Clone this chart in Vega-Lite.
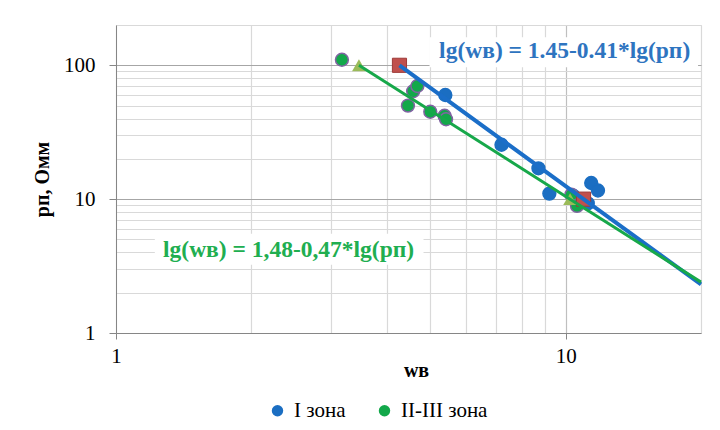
{
  "$schema": "https://vega.github.io/schema/vega-lite/v6.json",
  "width": 585,
  "height": 308,
  "autosize": "none",
  "padding": {"left": 116, "top": 25, "right": 19, "bottom": 97},
  "background": "white",
  "config": {
    "view": {"stroke": "#D9D9D9"},
    "font": "Liberation Serif",
    "legend": {"labelFont": "Liberation Serif", "labelFontWeight": "normal", "labelFontSize": 21, "labelColor": "#000000"}
  },
  "datasets": {
    "pts": [
      {"zone": "I зона", "w": 5.4, "p": 60},
      {"zone": "I зона", "w": 7.2, "p": 25.5},
      {"zone": "I зона", "w": 8.7, "p": 17},
      {"zone": "I зона", "w": 9.2, "p": 11},
      {"zone": "I зона", "w": 10.4, "p": 10.6},
      {"zone": "I зона", "w": 11.2, "p": 9.3},
      {"zone": "I зона", "w": 11.4, "p": 13.2},
      {"zone": "I зона", "w": 11.8, "p": 11.6},
      {"zone": "II-III зона", "w": 3.18, "p": 110},
      {"zone": "II-III зона", "w": 4.58, "p": 64},
      {"zone": "II-III зона", "w": 4.68, "p": 70},
      {"zone": "II-III зона", "w": 4.46, "p": 50},
      {"zone": "II-III зона", "w": 5.0, "p": 45},
      {"zone": "II-III зона", "w": 5.38, "p": 42},
      {"zone": "II-III зона", "w": 5.42, "p": 39.5},
      {"zone": "II-III зона", "w": 10.3, "p": 10.8},
      {"zone": "II-III зона", "w": 10.6, "p": 8.9}
    ],
    "fitI": [
      {"w": 4.27, "p": 100},
      {"w": 10.96, "p": 10},
      {"w": 20, "p": 2.31}
    ],
    "fitII": [
      {"w": 3.47, "p": 100},
      {"w": 10.23, "p": 10},
      {"w": 20, "p": 2.40}
    ],
    "markI": [
      {"w": 4.27, "p": 100},
      {"w": 10.96, "p": 10}
    ],
    "markII": [
      {"w": 3.47, "p": 100},
      {"w": 10.23, "p": 10}
    ],
    "labels": [
      {"text": "lg(wв) = 1.45-0.41*lg(рп)", "series": "I", "w": 9.95, "p": 127, "w1": 4.98, "w2": 19.7, "p1": 96.6, "p2": 162},
      {"text": "lg(wв) = 1,48-0,47*lg(рп)", "series": "II", "w": 2.42, "p": 4.19, "w1": 1.22, "w2": 4.83, "p1": 3.23, "p2": 5.52}
    ]
  },
  "layer": [
    {
      "data": {"name": "labels"},
      "mark": {"type": "rect", "fill": "white", "strokeWidth": 0},
      "encoding": {
        "x": {
          "field": "w1", "type": "quantitative",
          "scale": {"type": "log", "domain": [1, 20], "nice": false},
          "axis": {
            "title": "wв",
            "titleFont": "Liberation Serif",
            "titleFontSize": 20,
            "titleFontWeight": "bold",
            "titleColor": "#000000",
            "titleX": 300,
            "titleY": 37,
            "titleAlign": "center",
            "titleBaseline": "middle",
            "values": [1, 2, 3, 4, 5, 6, 7, 8, 9, 10, 20],
            "labelExpr": "(datum.value == 1 || datum.value == 10) ? datum.value + '' : ''",
            "labelFont": "Liberation Serif",
            "labelFontSize": 21,
            "labelColor": "#000000",
            "labelPadding": 6,
            "labelFlush": false,
            "labelOverlap": false,
            "tickSize": 6,
            "tickColor": {"condition": {"test": "datum.value == 1 || datum.value == 10", "value": "#868686"}, "value": "transparent"},
            "domainColor": "#868686",
            "grid": true,
            "gridColor": {"condition": {"test": "datum.value == 10", "value": "#BFBFBF"}, "value": "#D9D9D9"},
            "gridWidth": 1.2
          }
        },
        "x2": {"field": "w2"},
        "y": {
          "field": "p1", "type": "quantitative",
          "scale": {"type": "log", "domain": [1, 200], "nice": false},
          "axis": {
            "title": "рп, Омм",
            "titleFont": "Liberation Serif",
            "titleFontSize": 20,
            "titleFontWeight": "bold",
            "titleColor": "#000000",
            "titleX": -74,
            "titleY": 154,
            "titleAngle": -90,
            "titleAlign": "center",
            "titleBaseline": "middle",
            "values": [1, 2, 3, 4, 5, 6, 7, 8, 9, 10, 20, 30, 40, 50, 60, 70, 80, 90, 100, 200],
            "labelExpr": "(datum.value == 1 || datum.value == 10 || datum.value == 100) ? datum.value + '' : ''",
            "labelFont": "Liberation Serif",
            "labelFontSize": 21,
            "labelColor": "#000000",
            "labelPadding": 14,
            "labelFlush": false,
            "labelOverlap": false,
            "tickSize": 7,
            "tickColor": {"condition": {"test": "datum.value == 1 || datum.value == 10 || datum.value == 100", "value": "#868686"}, "value": "transparent"},
            "domainColor": "#868686",
            "grid": true,
            "gridColor": {"condition": {"test": "datum.value == 10 || datum.value == 100", "value": "#A6A6A6"}, "value": "#D9D9D9"},
            "gridWidth": 1.2
          }
        },
        "y2": {"field": "p2"}
      }
    },
    {
      "data": {"name": "pts"},
      "mark": {"type": "circle", "size": 165, "opacity": 1, "strokeWidth": 1.5},
      "encoding": {
        "x": {"field": "w", "type": "quantitative"},
        "y": {"field": "p", "type": "quantitative"},
        "color": {
          "field": "zone", "type": "nominal",
          "scale": {"domain": ["I зона", "II-III зона"], "range": ["#1B6EC2", "#12A84A"]},
          "legend": {
            "title": null,
            "orient": "none",
            "legendX": 151,
            "legendY": 375,
            "direction": "horizontal",
            "symbolType": "circle",
            "symbolSize": 130,
            "symbolStrokeWidth": 0,
            "labelFont": "Liberation Serif",
            "labelFontWeight": "normal",
            "labelFontSize": 21,
            "labelColor": "#000000",
            "columnPadding": 28,
            "labelOffset": 6
          }
        },
        "stroke": {
          "field": "zone", "type": "nominal",
          "scale": {"domain": ["I зона", "II-III зона"], "range": ["#1B6EC2", "#8064A2"]},
          "legend": null
        }
      }
    },
    {
      "data": {"name": "markI"},
      "mark": {"type": "square", "size": 200, "opacity": 1, "filled": true, "color": "#C0504D", "stroke": "#9E3B38", "strokeWidth": 1},
      "encoding": {
        "x": {"field": "w", "type": "quantitative"},
        "y": {"field": "p", "type": "quantitative"}
      }
    },
    {
      "data": {"name": "markII"},
      "mark": {"type": "point", "shape": "triangle-up", "size": 190, "opacity": 1, "filled": true, "color": "#9BBB59"},
      "encoding": {
        "x": {"field": "w", "type": "quantitative"},
        "y": {"field": "p", "type": "quantitative"}
      }
    },
    {
      "data": {"name": "fitI"},
      "mark": {"type": "line", "color": "#1B6EC8", "strokeWidth": 4},
      "encoding": {
        "x": {"field": "w", "type": "quantitative"},
        "y": {"field": "p", "type": "quantitative"}
      }
    },
    {
      "data": {"name": "fitII"},
      "mark": {"type": "line", "color": "#17A84A", "strokeWidth": 3},
      "encoding": {
        "x": {"field": "w", "type": "quantitative"},
        "y": {"field": "p", "type": "quantitative"}
      }
    },
    {
      "data": {"name": "labels"},
      "mark": {"type": "text", "font": "Liberation Serif", "fontWeight": "bold", "fontSize": 23.5, "align": "center", "baseline": "middle"},
      "encoding": {
        "x": {"field": "w", "type": "quantitative"},
        "y": {"field": "p", "type": "quantitative"},
        "text": {"field": "text"},
        "color": {
          "field": "series", "type": "nominal",
          "scale": {"domain": ["I", "II"], "range": ["#2E74C0", "#20AE50"]},
          "legend": null
        }
      }
    }
  ],
  "resolve": {"scale": {"color": "independent"}}
}
